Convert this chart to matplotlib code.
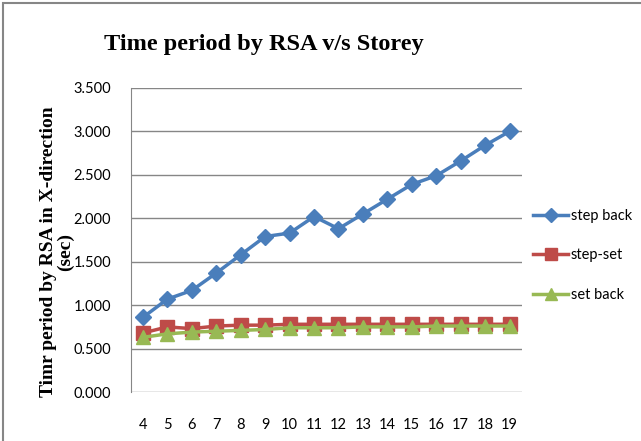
import matplotlib.pyplot as plt
from matplotlib.patches import Rectangle

# data
storeys = [4, 5, 6, 7, 8, 9, 10, 11, 12, 13, 14, 15, 16, 17, 18, 19]
step_back = [0.86, 1.07, 1.17, 1.37, 1.58, 1.79, 1.83, 2.02, 1.88, 2.05, 2.22, 2.39, 2.49, 2.66, 2.84, 3.00]
step_set = [0.68, 0.75, 0.73, 0.76, 0.77, 0.77, 0.78, 0.78, 0.78, 0.78, 0.78, 0.78, 0.78, 0.78, 0.78, 0.78]
set_back = [0.63, 0.67, 0.69, 0.70, 0.71, 0.72, 0.74, 0.74, 0.74, 0.75, 0.75, 0.75, 0.76, 0.76, 0.76, 0.76]
y_ticks = [0.0, 0.5, 1.0, 1.5, 2.0, 2.5, 3.0, 3.5]

fig = plt.figure(figsize=(6.41, 4.41), dpi=100)
ax = fig.add_axes([0.204, 0.111, 0.610, 0.6895])

ax.plot(storeys, step_back, color='#4A7EBB', marker='D', markersize=8.5, linewidth=2.5, label='step back')
ax.plot(storeys, step_set, color='#BE4B48', marker='s', markersize=10, linewidth=2.5, label='step-set')
ax.plot(storeys, set_back, color='#98B954', marker='^', markersize=10, linewidth=2.5, label='set back')

ax.set_xlim(3.5, 19.5)
ax.set_ylim(0, 3.5)
ax.set_xticks(storeys)
ax.set_xticklabels([str(s) for s in storeys], fontfamily='Lato', fontsize=10.5)
ax.set_yticks(y_ticks)
ax.set_yticklabels(['%.3f' % v for v in y_ticks], fontfamily='Lato', fontsize=10.5)
ax.tick_params(axis='both', length=0)
ax.tick_params(axis='y', pad=14)
ax.tick_params(axis='x', pad=19)

ax.grid(axis='y', color='#868686', linewidth=1)
ax.set_axisbelow(True)
for s in ['top', 'right', 'bottom']:
    ax.spines[s].set_visible(False)
ax.spines['left'].set_color('#868686')

ax.set_ylabel('Timr period by RSA in X-direction\n(sec)', fontfamily='Liberation Serif',
              fontweight='bold', fontsize=14, linespacing=1.0)
ax.yaxis.set_label_coords(-0.145, 0.462)

fig.text(0.412, 0.90, 'Time period by RSA v/s Storey', ha='center', va='center',
         fontfamily='Liberation Serif', fontweight='bold', fontsize=17.5)

ax.legend(loc='center left', bbox_to_anchor=(1.0, 0.45), frameon=False,
          prop={'family': 'Lato', 'size': 10.5}, labelspacing=1.75, handlelength=2.4,
          handletextpad=0.15, borderaxespad=0.4, markerscale=0.85)

# outer chart border (only left and top visible in the crop)
fig.patches.append(Rectangle((3 / 641, -0.1), 1.2, 1 - 3 / 441 + 0.1, transform=fig.transFigure,
                             fill=False, edgecolor='#868686', linewidth=1.5))

fig.savefig('out.png', dpi=100)
